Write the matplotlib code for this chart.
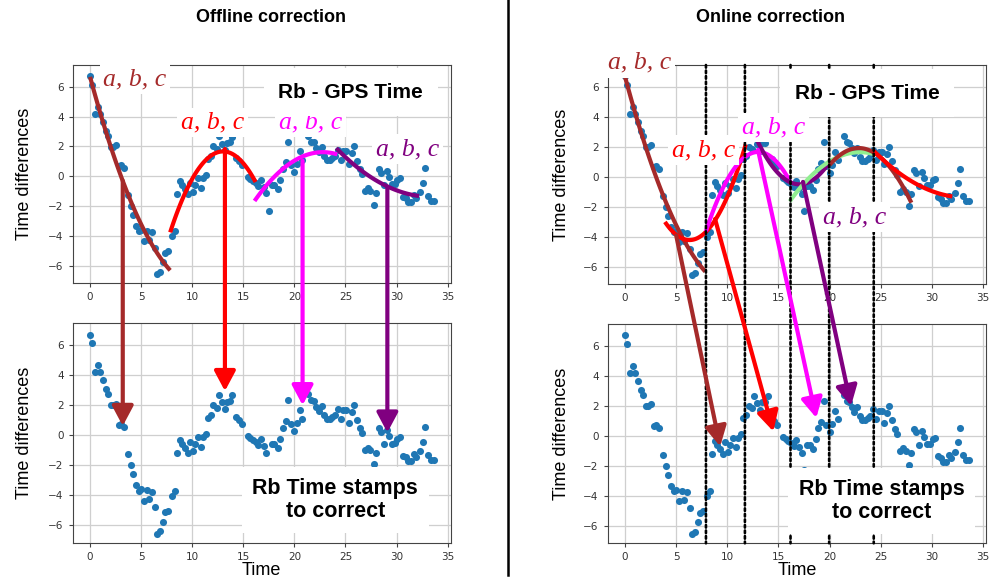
import numpy as np
import matplotlib.pyplot as plt
from matplotlib.patches import ConnectionPatch, ArrowStyle

# Rb - GPS time differences (same samples in all four panels)
time = [0.0, 0.23, 0.49, 0.75, 1.0, 1.24, 1.53, 1.79, 2.02, 2.28,
        2.54, 2.8, 3.06, 3.35, 3.75, 3.97, 4.23, 4.53, 4.76, 5.02,
        5.28, 5.54, 5.8, 6.03, 6.35, 6.58, 6.84, 7.13, 7.36, 7.65,
        7.98, 8.27, 8.5, 8.79, 9.02, 9.25, 9.54, 9.77, 10.03, 10.29,
        10.55, 10.81, 11.07, 11.3, 11.53, 11.79, 12.08, 12.38, 12.64, 12.9,
        13.16, 13.42, 13.68, 13.94, 14.33, 14.59, 14.85, 15.44, 15.7, 15.96,
        16.22, 16.48, 16.74, 17.0, 17.26, 17.52, 17.79, 18.05, 18.37, 18.63,
        18.89, 19.15, 19.41, 19.67, 20.0, 20.26, 20.52, 20.78, 21.37, 21.66,
        21.92, 22.15, 22.41, 22.67, 22.93, 23.19, 23.45, 23.71, 23.97, 24.23,
        24.53, 24.79, 25.08, 25.34, 25.6, 25.86, 26.12, 26.38, 26.64, 26.9,
        27.17, 27.43, 27.75, 28.01, 28.24, 28.5, 28.76, 29.02, 29.28, 29.54,
        29.8, 30.07, 30.36, 30.62, 30.88, 31.14, 31.4, 31.66, 31.92, 32.25,
        32.54, 32.8, 33.06, 33.36, 33.62]
diff = [6.69, 6.14, 4.19, 4.66, 4.19, 3.66, 3.05, 2.72, 1.99, 1.99,
        2.1, 0.66, 0.72, 0.55, -1.26, -1.99, -2.58, -3.31, -3.69, -3.58,
        -4.35, -3.64, -4.24, -3.75, -4.79, -6.56, -6.4, -5.74, -5.12, -5.01,
        -4.02, -3.69, -1.21, -0.33, -0.6, -0.88, -1.19, -0.42, -1.06, -0.6,
        -0.11, -0.77, -0.11, 0.11, 1.17, 1.37, 2.0, 1.83, 2.67, 2.19,
        1.74, 2.23, 2.27, 2.65, 1.21, 0.99, 0.73, -0.04, -0.2, -0.33,
        -0.44, -0.68, -0.26, -0.71, -1.15, -2.3, -0.6, -0.6, -0.88, -0.22,
        0.51, 0.95, 2.32, 0.73, 0.29, 0.79, 1.68, 1.1, 2.72, 2.32,
        2.27, 1.9, 1.61, 1.94, 1.35, 1.06, 1.06, 1.21, 1.35, 1.77,
        1.1, 1.66, 1.66, 0.84, 1.55, 2.0, 1.04, 0.46, 0.15, -1.0,
        -0.82, -1.0, -1.92, -1.15, 0.46, 0.24, -0.6, 0.35, -0.04, -0.55,
        -0.51, -0.22, -0.11, -1.37, -1.48, -1.74, -1.74, -1.26, -1.48, -1.04,
        -0.42, 0.55, -1.3, -1.63, -1.63]

# quadratic fit windows (a, b, c)
off_windows = [(0, 7.84), (7.84, 16.2), (16.1, 24.2), (24.1, 32.2)]
off_colors = ['brown', 'red', 'magenta', 'purple']
on_windows = [(0, 7.84), (3.9, 11.8), (7.9, 16.2), (12.3, 20.0),
              (16.1, 24.3), (20.0, 28.0), (24.3, 32.0)]
on_colors = ['brown', 'red', 'magenta', 'purple', 'lightgreen', 'brown', 'red']

# arrows: start in the upper panel, tip in the lower panel
off_arrow_start = [(3.2, -0.3), (13.2, 1.82), (20.8, 1.04), (29.1, -0.75)]
off_arrow_end = [(3.2, 0.62), (13.2, 2.94), (20.8, 2.0), (29.1, 0.18)]
on_arrow_start = [(5.0, -3.9), (8.8, -2.8), (13.0, 1.8), (17.4, -0.33)]
on_arrow_end = [(9.3, -0.7), (14.5, 0.3), (18.7, 1.2), (22.1, 2.0)]
arrow_colors = ['brown', 'red', 'magenta', 'purple']

window_edges = [7.91, 11.72, 16.18, 19.96, 24.32]

# "a, b, c" label centres
off_labels = [(4.4, 6.5), (12.0, 3.6), (21.6, 3.6), (31.1, 1.82)]
on_labels = [(1.37, 7.6), (7.65, 1.78), (14.5, 3.29), (22.4, -2.67)]

t = np.array(time)
d = np.array(diff)

fig = plt.figure(figsize=(9.9, 5.82), dpi=100)
W, H = 990, 582


def px_axes(x0, y0, x1, y1):
    return fig.add_axes([x0 / W, 1 - y1 / H, (x1 - x0) / W, (y1 - y0) / H])


ax_ol_top = px_axes(72.7, 65, 450.7, 283)
ax_ol_bot = px_axes(72.7, 323.3, 450.7, 542.7)
ax_on_top = px_axes(607.7, 65, 986, 284.3)
ax_on_bot = px_axes(607.7, 324, 986, 543.3)

for ax in [ax_ol_top, ax_ol_bot, ax_on_top, ax_on_bot]:
    ax.scatter(t, d, s=26, color='#1f77b4', zorder=3, linewidths=0)
    ax.set_xlim(-1.7, 35.3)
    ax.set_ylim(-7.15, 7.45)
    ax.set_xticks(range(0, 36, 5))
    ax.set_yticks(range(-6, 7, 2))
    ax.grid(True, color='#cfcfcf', lw=0.9)
    ax.set_axisbelow(True)
    ax.tick_params(labelsize=7.5, length=3, color='#444444', labelcolor='#333333')
    for sp in ax.spines.values():
        sp.set_color('#444444')
    ax.set_ylabel('Time differences', fontsize=13, family='Liberation Sans')

for ax in [ax_ol_top, ax_ol_bot]:
    ax.yaxis.set_label_coords(-0.105, 0.5)
for ax in [ax_on_top, ax_on_bot]:
    ax.yaxis.set_label_coords(-0.1, 0.5)
for ax in [ax_ol_bot, ax_on_bot]:
    ax.set_xlabel('Time', fontsize=13, family='Liberation Sans', labelpad=0)


def draw_fits(ax, windows, colors):
    for (lo, hi), c in zip(windows, colors):
        m = (t >= lo) & (t <= hi)
        coef = np.polyfit(t[m], d[m], 2)
        xs = np.linspace(lo, hi, 100)
        ax.plot(xs, np.polyval(coef, xs), color=c, lw=3, zorder=4,
                solid_capstyle='butt')


draw_fits(ax_ol_top, off_windows, off_colors)
draw_fits(ax_on_top, on_windows, on_colors)

# dotted window boundaries across the two online panels
for x in window_edges:
    fig.add_artist(ConnectionPatch(
        xyA=(x, 1), coordsA=ax_on_top.get_xaxis_transform(),
        xyB=(x, 0), coordsB=ax_on_bot.get_xaxis_transform(),
        color='black', ls=(0, (1, 1.1)), lw=1.9, zorder=2))

astyle = ArrowStyle('-|>', head_length=0.6, head_width=0.32)


def draw_arrows(top, bot, starts, ends):
    for (xa, ya), (xb, yb), c in zip(starts, ends, arrow_colors):
        fig.add_artist(ConnectionPatch(
            xyA=(xa, ya), coordsA=top.transData,
            xyB=(xb, yb), coordsB=bot.transData,
            arrowstyle=astyle, mutation_scale=20, color=c, lw=3,
            shrinkA=0, shrinkB=0, zorder=3))


draw_arrows(ax_ol_top, ax_ol_bot, off_arrow_start, off_arrow_end)
draw_arrows(ax_on_top, ax_on_bot, on_arrow_start, on_arrow_end)

white = dict(boxstyle='square,pad=0.15', fc='white', ec='none')
for ax, pos in [(ax_ol_top, off_labels), (ax_on_top, on_labels)]:
    for (x, y), c in zip(pos, arrow_colors):
        fig.text(x, y, 'a, b, c', transform=ax.transData, color=c,
                 fontsize=18.5, family='Liberation Serif', style='italic',
                 ha='center', va='center', bbox=white, zorder=5)

big = dict(boxstyle='square,pad=0.7', fc='white', ec='none')
fig.text(25.5, 5.62, 'Rb - GPS Time', transform=ax_ol_top.transData,
         fontsize=15, weight='bold', family='Liberation Sans',
         ha='center', va='center', bbox=big, zorder=5)
fig.text(23.7, 5.56, 'Rb - GPS Time', transform=ax_on_top.transData,
         fontsize=15, weight='bold', family='Liberation Sans',
         ha='center', va='center', bbox=big, zorder=5)
stamp = dict(boxstyle='square,pad=0.5', fc='white', ec='none')
fig.text(24.0, -4.3, 'Rb Time stamps\nto correct', transform=ax_ol_bot.transData,
         fontsize=15.5, weight='bold', family='Liberation Sans',
         ha='center', va='center', linespacing=1.15, bbox=stamp, zorder=5)
fig.text(25.07, -4.32, 'Rb Time stamps\nto correct', transform=ax_on_bot.transData,
         fontsize=15.5, weight='bold', family='Liberation Sans',
         ha='center', va='center', linespacing=1.15, bbox=stamp, zorder=5)

fig.text(271 / W, 1 - 18 / H, 'Offline correction', fontsize=13, weight='bold',
         family='Liberation Sans', ha='center', va='center')
fig.text(770 / W, 1 - 18 / H, 'Online correction', fontsize=13, weight='bold',
         family='Liberation Sans', ha='center', va='center')

# divider between the two halves
fig.add_artist(plt.Line2D([508 / W, 508 / W], [1 - 575 / H, 1], color='black',
                          lw=1.8, transform=fig.transFigure))

fig.savefig('out.png', dpi=100)
